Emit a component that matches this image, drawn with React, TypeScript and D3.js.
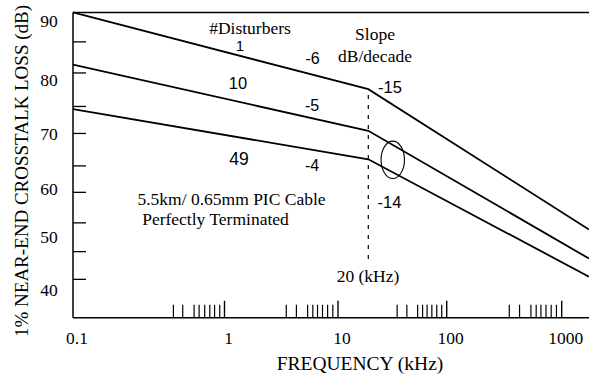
import React from "react";
import * as d3 from "d3";

// ---- data ----
const xMajorTicks = [0.1, 1, 10, 100, 1000];
const xMajorLabels = ["0.1", "1", "10", "100", "1000"];
const xMinorTicks = [
  0.46, 0.53, 0.63, 0.68, 0.74, 0.8, 0.86, 0.93,
  3.5, 4.3, 5.4, 6.0, 6.6, 7.3, 8.1, 9.0,
  35, 43, 54, 60, 66, 73, 81, 90,
  350, 430, 540, 600, 660, 730, 810, 900,
];
const yLabels = [90, 80, 70, 60, 50, 40];
const yMinorTicks = [86.5, 81.2, 75.1, 70.1, 64.2, 59.3, 52.9, 47.2, 42.0];

const freqs = [0.1, 19, 1727];
const loss1 = [91.5, 78.3, 51.5];
const loss10 = [82.6, 70.6, 45.9];
const loss49 = [74.6, 65.4, 42.5];
const series = [loss1, loss10, loss49];

const breakFreq = 19;
const dashRange = [77.2, 45.3];
const topDb = 91.5;
const ellipseAt = { f: 31.9, db: 65.3 };

const W = 589;
const H = 374;

const serif = "Liberation Serif, Times New Roman, serif";
const sans = "Liberation Sans, Arial, sans-serif";

export default function App() {
  const x = d3
    .scaleLog()
    .domain(xMajorTicks)
    .range([73, 224.5, 338, 446.7, 561.7]);
  const y = d3
    .scaleLinear()
    .domain(yLabels)
    .range([21.3, 80, 134, 189, 236.7, 290]);

  const axisY = 317.8;
  const left = x(0.1);
  const right = W;
  const top = y(topDb);

  const line = d3
    .line<[number, number]>()
    .x((d) => x(d[0]))
    .y((d) => y(d[1]));

  const annotations: { t: string; x: number; y: number; font: string; size: number }[] = [
    { t: "#Disturbers", x: 250, y: 33.5, font: serif, size: 17.5 },
    { t: "1", x: 240, y: 51, font: sans, size: 15 },
    { t: "-6", x: 312.5, y: 64, font: sans, size: 16 },
    { t: "Slope", x: 375, y: 39.5, font: serif, size: 17.5 },
    { t: "dB/decade", x: 375, y: 61.5, font: serif, size: 17.5 },
    { t: "-15", x: 390, y: 93, font: sans, size: 16.5 },
    { t: "10", x: 238, y: 89.3, font: sans, size: 16.5 },
    { t: "-5", x: 312, y: 110.7, font: sans, size: 16 },
    { t: "49", x: 239, y: 165, font: sans, size: 17.5 },
    { t: "-4", x: 312, y: 171, font: sans, size: 16 },
    { t: "-14", x: 389.5, y: 208.3, font: sans, size: 16.5 },
    { t: "5.5km/ 0.65mm PIC Cable", x: 231.5, y: 205, font: serif, size: 17.5 },
    { t: "Perfectly Terminated", x: 215.5, y: 225, font: serif, size: 17.5 },
    { t: "20 (kHz)", x: 368, y: 281.7, font: serif, size: 17.5 },
  ];

  return (
    <svg
      width={W}
      height={H}
      viewBox={`0 0 ${W} ${H}`}
      style={{ position: "absolute", left: 0, top: 0, background: "#fff" }}
    >
      <rect x={0} y={0} width={W} height={H} fill="#fff" />
      {/* frame */}
      <line x1={left} x2={right} y1={top} y2={top} stroke="#000" strokeWidth={1.5} />
      <line x1={left} x2={left} y1={top} y2={axisY} stroke="#000" strokeWidth={1.5} />
      <line x1={left} x2={right} y1={axisY} y2={axisY} stroke="#000" strokeWidth={1.5} />

      {/* y ticks */}
      {yMinorTicks.map((v, i) => (
        <line key={"yt" + i} x1={left} x2={left + 13} y1={y(v)} y2={y(v)} stroke="#000" strokeWidth={1.3} />
      ))}
      {yLabels.map((v) => (
        <text
          key={"yl" + v}
          x={49}
          y={y(v)}
          dy="0.35em"
          textAnchor="middle"
          fontFamily={serif}
          fontSize={17.5}
        >
          {v}
        </text>
      ))}

      {/* x ticks */}
      {xMinorTicks.map((v, i) => (
        <line key={"xm" + i} x1={x(v)} x2={x(v)} y1={axisY} y2={axisY - 13} stroke="#000" strokeWidth={1.2} />
      ))}
      {xMajorTicks.slice(1).map((v) => (
        <line key={"xM" + v} x1={x(v)} x2={x(v)} y1={axisY} y2={axisY - 17} stroke="#000" strokeWidth={1.4} />
      ))}
      {xMajorTicks.map((v, i) => (
        <text
          key={"xl" + v}
          x={x(v) + 4}
          y={344}
          textAnchor="middle"
          fontFamily={serif}
          fontSize={17.5}
        >
          {xMajorLabels[i]}
        </text>
      ))}

      {/* curves */}
      {series.map((s, i) => (
        <path
          key={"s" + i}
          d={line(freqs.map((f, j) => [f, s[j]] as [number, number])) || ""}
          fill="none"
          stroke="#000"
          strokeWidth={1.8}
        />
      ))}

      {/* break marker */}
      <line
        x1={x(breakFreq)}
        x2={x(breakFreq)}
        y1={y(dashRange[0])}
        y2={y(dashRange[1])}
        stroke="#000"
        strokeWidth={1.2}
        strokeDasharray="4,6"
      />
      <ellipse
        cx={x(ellipseAt.f)}
        cy={y(ellipseAt.db)}
        rx={11.7}
        ry={18.7}
        fill="none"
        stroke="#000"
        strokeWidth={1.1}
      />

      {annotations.map((a, i) => (
        <text
          key={"a" + i}
          x={a.x}
          y={a.y}
          textAnchor="middle"
          fontFamily={a.font}
          fontSize={a.size}
        >
          {a.t}
        </text>
      ))}

      {/* axis titles */}
      <text x={360} y={370} textAnchor="middle" fontFamily={serif} fontSize={19.5}>
        FREQUENCY (kHz)
      </text>
      <text
        transform="translate(28,171) rotate(-90)"
        textAnchor="middle"
        fontFamily={serif}
        fontSize={19}
      >
        1% NEAR-END CROSSTALK LOSS (dB)
      </text>
    </svg>
  );
}
